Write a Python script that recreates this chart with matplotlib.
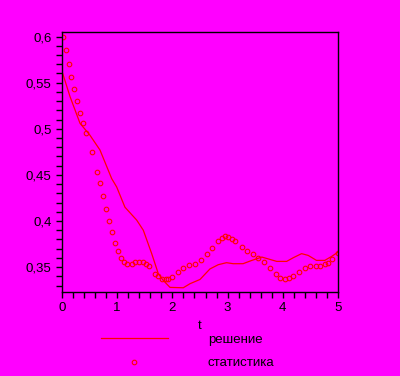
import matplotlib
matplotlib.use("Agg")
import matplotlib.pyplot as plt
from matplotlib.lines import Line2D
from matplotlib.ticker import MultipleLocator, FuncFormatter

# решение (solid line)
t_sol = [0.013, 0.145, 0.326, 0.507, 0.688, 0.90, 0.99, 1.14, 1.353, 1.473,
         1.625, 1.745, 1.835, 1.957, 2.197, 2.319, 2.5, 2.68, 2.83, 2.98,
         3.10, 3.28, 3.44, 3.62, 3.89, 4.07, 4.19, 4.34, 4.46, 4.61,
         4.76, 4.885, 5.0]
y_sol = [0.560, 0.535, 0.506, 0.493, 0.477, 0.446, 0.437, 0.415, 0.401, 0.390,
         0.3646, 0.3428, 0.3355, 0.328, 0.3276, 0.332, 0.3366, 0.348, 0.3526, 0.3548,
         0.3537, 0.3537, 0.3573, 0.3609, 0.3562, 0.3562, 0.3602, 0.3646, 0.3627, 0.3573,
         0.3573, 0.3616, 0.3663]

# статистика (circles)
t_stat = [0.02, 0.072, 0.127, 0.163, 0.217, 0.272, 0.326, 0.38, 0.435, 0.543,
          0.634, 0.688, 0.748, 0.797, 0.851, 0.906, 0.954, 1.009, 1.063, 1.123,
          1.183, 1.262, 1.322, 1.40, 1.462, 1.522, 1.58, 1.685, 1.733, 1.806,
          1.878, 1.926, 1.987, 2.096, 2.197, 2.306, 2.41, 2.518, 2.633, 2.723,
          2.82, 2.893, 2.953, 3.013, 3.074, 3.134, 3.255, 3.346, 3.455, 3.556,
          3.665, 3.768, 3.877, 3.949, 4.04, 4.118, 4.19, 4.293, 4.40, 4.493,
          4.60, 4.674, 4.764, 4.824, 4.90, 5.0]
y_stat = [0.600, 0.585, 0.570, 0.556, 0.543, 0.530, 0.517, 0.506, 0.495, 0.475,
          0.453, 0.441, 0.4276, 0.4135, 0.400, 0.388, 0.376, 0.367, 0.3598, 0.3554,
          0.3537, 0.3537, 0.3554, 0.356, 0.356, 0.3537, 0.3508, 0.3428, 0.340, 0.3374,
          0.3366, 0.3374, 0.339, 0.3446, 0.349, 0.352, 0.3537, 0.3573, 0.3638, 0.371,
          0.378, 0.3815, 0.3834, 0.3826, 0.381, 0.378, 0.3717, 0.3674, 0.3638, 0.360,
          0.355, 0.349, 0.342, 0.3385, 0.3366, 0.3385, 0.340, 0.3446, 0.349, 0.3508,
          0.351, 0.351, 0.353, 0.3543, 0.359, 0.365]

plt.rcParams['font.family'] = ['Liberation Sans', 'DejaVu Sans']
bg = '#ff00ff'

fig = plt.figure(figsize=(4, 3.76), dpi=100, facecolor=bg)
ax = fig.add_axes([0.155, 0.2234, 0.69, 0.6915], facecolor=bg)

ax.plot(t_sol, y_sol, color='red', lw=0.9)
ax.plot(t_stat, y_stat, 'o', ms=3.3, mfc='none', mec='red', mew=0.8)

ax.set_xlim(0, 5)
ax.set_ylim(0.323, 0.605)
ax.xaxis.set_major_locator(MultipleLocator(1))
ax.xaxis.set_minor_locator(MultipleLocator(0.2))
ax.yaxis.set_major_locator(MultipleLocator(0.05))
ax.yaxis.set_minor_locator(MultipleLocator(0.01))
ax.yaxis.set_major_formatter(FuncFormatter(lambda v, p: ('%g' % round(v, 2)).replace('.', ',')))
ax.tick_params(which='both', direction='out', length=4, width=1, colors='black',
               labelsize=9.5, top=False, right=False)
for s in ax.spines.values():
    s.set_color('black')
    s.set_linewidth(1)

ax.set_xlabel('t', fontsize=9.5, labelpad=4)

# legend
fig.add_artist(Line2D([101 / 400, 168 / 400], [1 - 338 / 376, 1 - 338 / 376],
                      color='red', lw=0.9, transform=fig.transFigure))
fig.add_artist(Line2D([134 / 400], [1 - 362 / 376], marker='o', ms=3.3, mfc='none',
                      mec='red', mew=0.8, transform=fig.transFigure))
fig.text(208 / 400, 1 - 340 / 376, 'решение', fontsize=9.5, va='center')
fig.text(208 / 400, 1 - 363 / 376, 'статистика', fontsize=9.5, va='center')

fig.savefig('out.png', dpi=100, facecolor=bg)
